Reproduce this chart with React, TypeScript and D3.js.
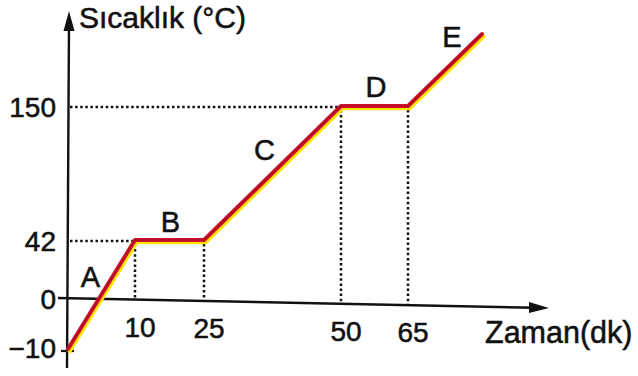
import React from "react";
import * as d3 from "d3";

const times = [0, 10, 25, 50, 65, 80];
const temps = [-10, 42, 42, 150, 150, 210];
const segmentLabels = ["A", "B", "C", "D", "E"];
const xTicks = [10, 25, 50, 65];
const yTicks = [-10, 0, 42, 150];
const yTickLabels = ["\u221210", "0", "42", "150"];
const yTitle = "Sıcaklık (°C)";
const xTitle = "Zaman(dk)";

const W = 638;
const H = 376;
const FONT = "'Liberation Sans', Arial, Helvetica, sans-serif";

export default function App() {
  // schematic (non-uniform) axes, piecewise linear scales
  const x = d3.scaleLinear().domain([0, 10, 25, 50, 65, 80]).range([68, 135, 204, 341, 408, 482]);
  const y = d3.scaleLinear().domain([-10, 0, 42, 150, 210]).range([349, 298, 240, 106, 34]);

  const pts: [number, number][] = times.map((t, i) => [x(t), y(temps[i])]);
  const line = d3.line<[number, number]>().x((d) => d[0]).y((d) => d[1]);
  const path = line(pts) || "";

  // label offsets relative to segment midpoints
  const labelOffsets: [number, number][] = [
    [-11, -18],
    [1, -18],
    [-8, -23],
    [1.5, -19.5],
    [7, -33.5],
  ];

  const guideIdx = [1, 2, 3, 4];
  const xAxisY0 = y(0);
  const xAxisSlope = 10 / 490;
  const axisYAt = (px: number) => xAxisY0 + (px - 58) * xAxisSlope;
  const txt = { fill: "#111", stroke: "#111", strokeWidth: 0.55 };

  return (
    <svg
      width={W}
      height={H}
      style={{ position: "absolute", left: 0, top: 0, background: "#fff" }}
      fontFamily={FONT}
    >
      <rect width={W} height={H} fill="#fff" />
      {/* dotted guides */}
      {guideIdx
        .filter((i, k, arr) => arr.findIndex((j) => temps[j] === temps[i]) === k)
        .map((i) => (
          <line
            key={"h" + i}
            x1={x(0) + 2}
            x2={x(times[i])}
            y1={y(temps[i]) + 1}
            y2={y(temps[i]) + 1}
            stroke="#111"
            strokeWidth={2.5}
            strokeDasharray="2.5 2.6"
          />
        ))}
      {guideIdx.map((i) => (
        <line
          key={"v" + i}
          x1={x(times[i])}
          x2={x(times[i])}
          y1={y(temps[i]) + 4}
          y2={axisYAt(x(times[i]))}
          stroke="#111"
          strokeWidth={2.5}
          strokeDasharray="2.5 2.6"
        />
      ))}

      {/* axes */}
      <line x1={67} y1={368} x2={69} y2={24} stroke="#111" strokeWidth={2.4} />
      <path d="M69,11 L63.5,31 L74.5,31 Z" fill="#111" />
      <line x1={58} y1={axisYAt(58)} x2={534} y2={axisYAt(534)} stroke="#111" strokeWidth={2.4} />
      <path
        d={`M549,${axisYAt(549)} L529,${axisYAt(529) - 5.5} L529,${axisYAt(529) + 5.5} Z`}
        fill="#111"
      />
      {/* -10 tick */}
      <line x1={61} x2={74} y1={y(-10) + 2} y2={y(-10) + 2} stroke="#111" strokeWidth={2.2} />

      {/* data line */}
      <path d={path} transform="translate(1.6,2.2)" fill="none" stroke="#ffe400" strokeWidth={4} strokeLinejoin="round" strokeLinecap="round" />
      <path d={path} fill="none" stroke="#d0102c" strokeWidth={4} strokeLinejoin="round" strokeLinecap="round" />
      <path d={path} fill="none" stroke="#8e0a1e" strokeWidth={1.2} strokeLinejoin="round" opacity={0.6} />

      {/* segment labels */}
      {segmentLabels.map((s, i) => {
        const mx = (pts[i][0] + pts[i + 1][0]) / 2 + labelOffsets[i][0];
        const my = (pts[i][1] + pts[i + 1][1]) / 2 + labelOffsets[i][1];
        return (
          <text key={s} x={mx} y={my} fontSize={29} textAnchor="middle" dominantBaseline="central" {...txt}>
            {s}
          </text>
        );
      })}

      {/* y tick labels */}
      {yTicks.map((v, i) => (
        <text key={"yt" + v} x={56} y={y(v) + (v === -10 ? -1 : 1)} fontSize={28} textAnchor="end" dominantBaseline="central" {...txt}>
          {yTickLabels[i]}
        </text>
      ))}
      {/* x tick labels */}
      {xTicks.map((v) => (
        <text key={"xt" + v} x={x(v) + 5} y={axisYAt(x(v)) + 37} fontSize={28} textAnchor="middle" {...txt}>
          {v}
        </text>
      ))}

      {/* titles */}
      <text x={79} y={28} fontSize={30} {...txt}>
        {yTitle}
      </text>
      <text x={485} y={343} fontSize={30.5} {...txt}>
        {xTitle}
      </text>
    </svg>
  );
}
